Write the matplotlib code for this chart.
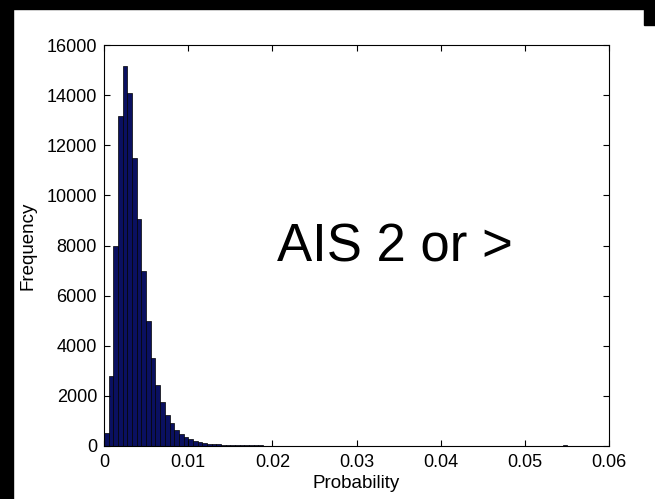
import numpy as np
import matplotlib
matplotlib.use("Agg")
import matplotlib.pyplot as plt
from matplotlib.patches import Rectangle

# histogram of probabilities, 100 bins (MATLAB hist style)
bin_width = 0.000556
counts = [
    500, 2800, 8000, 13150, 15150, 14100, 11500, 9050, 7000, 5000,
    3500, 2450, 1760, 1240, 900, 640, 480, 350, 270, 200,
    160, 115, 95, 80, 68, 58, 50, 44, 38, 33,
    29, 26, 23, 20, 18, 16, 15, 14, 13, 12,
    11, 10, 9, 9, 8, 8, 7, 7, 6, 6,
    5, 5, 5, 4, 4, 4, 4, 3, 3, 3,
    3, 3, 2, 2, 3, 2, 1, 2, 1, 3,
    4, 3, 4, 3, 3, 4, 2, 2, 2, 1,
    1, 1, 0, 0, 0, 0, 0, 0, 0, 0,
    0, 0, 0, 0, 0, 0, 0, 0, 40, 0,
]
x_ticks = [0, 0.01, 0.02, 0.03, 0.04, 0.05, 0.06]
x_labels = ["0", "0.01", "0.02", "0.03", "0.04", "0.05", "0.06"]
y_ticks = [0, 2000, 4000, 6000, 8000, 10000, 12000, 14000, 16000]

plt.rcParams['font.family'] = ['Liberation Sans', 'DejaVu Sans']

fig = plt.figure(figsize=(6.55, 4.99), dpi=100)
fig.patch.set_facecolor('white')

# black slide border bits (left, top, top-right)
fig.patches.append(Rectangle((0, 0), 13 / 655, 1, transform=fig.transFigure, color='black', zorder=0))
fig.patches.append(Rectangle((0, 1 - 9 / 499), 1, 9 / 499, transform=fig.transFigure, color='black', zorder=0))
fig.patches.append(Rectangle((1 - 11 / 655, 1 - 25 / 499), 11 / 655, 25 / 499, transform=fig.transFigure, color='black', zorder=0))

ax = fig.add_axes([104 / 655, 53 / 499, 505 / 655, 401 / 499])

lefts = np.arange(len(counts)) * bin_width
ax.bar(lefts, counts, width=bin_width, align='edge',
       color='#0a1060', edgecolor='black', linewidth=0.5)

ax.set_xlim(0, 0.06)
ax.set_ylim(0, 16000)
ax.set_xticks(x_ticks)
ax.set_xticklabels(x_labels)
ax.set_yticks(y_ticks)
ax.tick_params(direction='in', length=4, width=0.8, top=True, right=True,
               labelsize=13)
ax.tick_params(axis='x', pad=6)
ax.tick_params(axis='y', pad=5)
for sp in ax.spines.values():
    sp.set_linewidth(0.8)

ax.set_xlabel("Probability", fontsize=13.5, labelpad=3)
ax.set_ylabel("Frequency", fontsize=13.5, labelpad=7)

fig.text(277 / 655, 1 - 261 / 499, "AIS 2 or >", fontsize=38, ha='left', va='baseline')

fig.savefig("out.png", dpi=100, facecolor=fig.get_facecolor())
